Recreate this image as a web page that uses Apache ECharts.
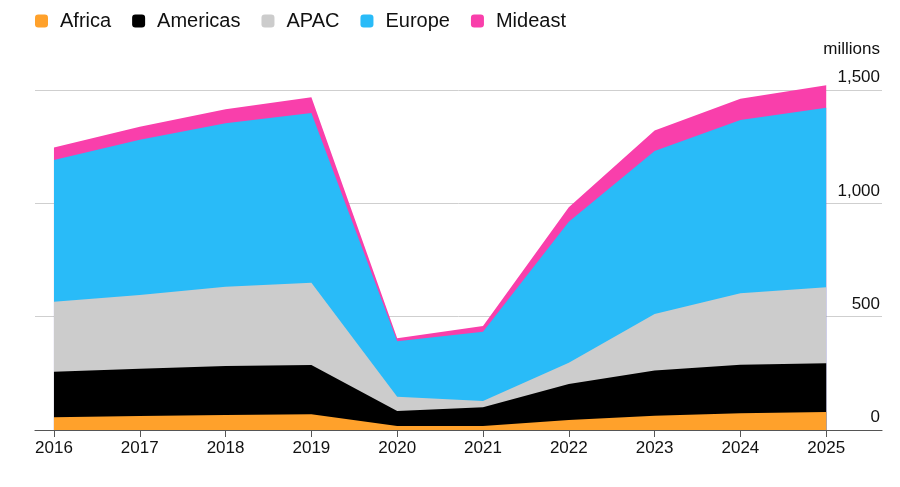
<!DOCTYPE html>
<html>
<head>
<meta charset="utf-8">
<script src="https://cdn.jsdelivr.net/npm/echarts@6/dist/echarts.min.js"></script>
<style>
html,body{margin:0;padding:0;background:#fff;}
#c{width:900px;height:487px;}
</style>
</head>
<body>
<div id="c"></div>
<script>
const years = [2016, 2017, 2018, 2019, 2020, 2021, 2022, 2023, 2024, 2025];
const africa   = [56, 62, 66, 69, 18, 18, 44, 63, 74, 79];
const americas = [201, 208, 216, 218, 66, 82, 159, 199, 214, 215];
const apac     = [309, 326, 350, 363, 63, 28, 94, 250, 315, 336];
const europe   = [625, 684, 721, 748, 245, 306, 622, 719, 765, 792];
const mideast  = [55, 58, 62, 70, 13, 25, 64, 90, 93, 99];
const yTicks = [0, 500, 1000, 1500];

const seriesDefs = [
  {name: 'Africa', data: africa, color: '#ffa12b'},
  {name: 'Americas', data: americas, color: '#000000'},
  {name: 'APAC', data: apac, color: '#cccccc'},
  {name: 'Europe', data: europe, color: '#29bbf8'},
  {name: 'Mideast', data: mideast, color: '#f93fab'}
];

// stack manually: each layer is drawn as the running total, topmost layer first
const running = years.map(() => 0);
const layers = seriesDefs.map(s => {
  const tops = s.data.map((v, i) => (running[i] += v));
  return {name: s.name, color: s.color, tops: tops};
});

function commas(v){ return String(v).replace(/\B(?=(\d{3})+(?!\d))/g, ','); }

const chart = echarts.init(document.getElementById('c'), null, {renderer: 'canvas'});
chart.setOption({
  animation: false,
  textStyle: {fontFamily: 'Liberation Sans, Arial, sans-serif'},
  legend: {
    left: 30, top: 6,
    icon: 'roundRect',
    itemWidth: 13, itemHeight: 13,
    itemGap: 21,
    textStyle: {fontSize: 20, color: '#111', padding: [0, 0, 0, 7]},
    data: seriesDefs.map(s => s.name)
  },
  graphic: [{
    type: 'text', right: 20, top: 41,
    style: {text: 'millions', fontSize: 17, fill: '#111', fontFamily: 'Liberation Sans, Arial, sans-serif'}
  }],
  grid: {left: 35, right: 18, top: 90, bottom: 57},
  xAxis: {
    type: 'value',
    min: 2015.779, max: 2025.65,
    axisLine: {show: true, lineStyle: {color: '#555', width: 1.2}},
    axisTick: {show: true, length: 7, lineStyle: {color: '#555'}, customValues: years},
    axisLabel: {fontSize: 17, color: '#111', margin: 10, customValues: years, formatter: v => String(v)},
    splitLine: {show: false}
  },
  yAxis: {
    type: 'value', position: 'right',
    min: 0, max: 1500, interval: 500,
    axisLine: {show: false}, axisTick: {show: false},
    axisLabel: {inside: true, fontSize: 17, color: '#111', margin: 2, verticalAlign: 'bottom', padding: [0, 0, 4, 0], formatter: v => commas(v)},
    splitLine: {lineStyle: {color: '#cfcfcf', width: 1}}
  },
  series: layers.slice().reverse().map((l, k) => ({
    name: l.name, type: 'line',
    data: years.map((y, i) => [y, l.tops[i]]),
    symbol: 'none',
    clip: false,
    z: 2 + k,
    lineStyle: {width: 0},
    areaStyle: {color: l.color, opacity: 1, origin: 'start'},
    itemStyle: {color: l.color}
  }))
});
</script>
</body>
</html>
